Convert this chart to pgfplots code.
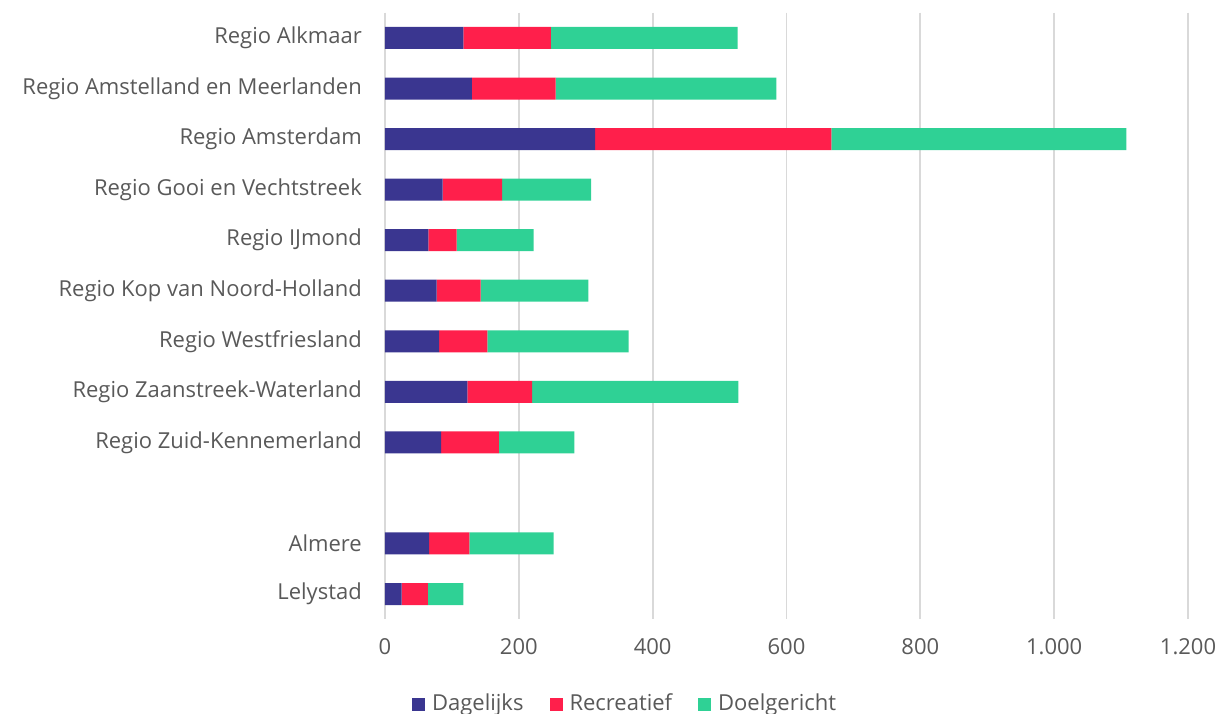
\documentclass[border=0pt]{standalone}
\usepackage{pgfplots}
\pgfplotsset{compat=1.18}
\usepackage{fontspec}
\setmainfont{Open Sans}
\definecolor{dag}{HTML}{3A3690}
\definecolor{rec}{HTML}{FF1F4B}
\definecolor{doel}{HTML}{2FD195}
\definecolor{txt}{HTML}{595959}
\definecolor{grd}{HTML}{D9D9D9}
\begin{document}
\begin{tikzpicture}
\path[use as bounding box] (-385pt,-94.7pt) rectangle (835pt,619.3pt);
\begin{axis}[
  at={(0,0)}, anchor=south west,
  scale only axis, width=803pt, height=606.6pt,
  xbar stacked, bar width=22pt,
  xmin=0, xmax=1200, ymin=-0.5, ymax=11.5, y dir=reverse,
  xtick={0,200,...,1200},
  xmajorgrids, grid style={grd, line width=1.8pt},
  ytick={0,1,2,3,4,5,6,7,8,10,11},
  yticklabels={Regio Alkmaar, Regio Amstelland en Meerlanden, Regio Amsterdam,
    Regio Gooi en Vechtstreek, Regio IJmond, Regio Kop van Noord-Holland,
    Regio Westfriesland, Regio Zaanstreek-Waterland, Regio Zuid-Kennemerland,
    Almere, Lelystad},
  axis line style={draw=none}, major tick length=0pt,
  tick label style={font=\fontsize{22}{26}\selectfont, text=txt, inner sep=0pt},
  yticklabel shift=23pt, xticklabel shift=19pt,
  /pgf/number format/assume math mode=true,
  /pgf/number format/1000 sep={.},
  legend columns=3,
  legend style={draw=none, at={(0.299,-0.138)}, anchor=center,
    font=\fontsize{22}{26}\selectfont, text=txt,
    /tikz/every odd column/.append style={column sep=5pt},
    /tikz/every even column/.append style={column sep=24pt}},
  legend image code/.code={\fill[#1] (0pt,-7.5pt) rectangle (13pt,5.5pt);},
]
\addplot+[fill=dag, draw=none] coordinates {
  (117,0) (130,1) (314,2) (86,3) (65,4) (77,5) (81,6) (123,7) (84,8) (66,10) (25,11)};
\addplot+[fill=rec, draw=none] coordinates {
  (131,0) (125,1) (353,2) (89,3) (42,4) (66,5) (72,6) (97,7) (86,8) (60,10) (39,11)};
\addplot+[fill=doel, draw=none] coordinates {
  (279,0) (330,1) (441,2) (133,3) (115,4) (161,5) (211,6) (308,7) (113,8) (126,10) (53,11)};
\legend{Dagelijks, Recreatief, Doelgericht}
\end{axis}
\end{tikzpicture}
\end{document}
